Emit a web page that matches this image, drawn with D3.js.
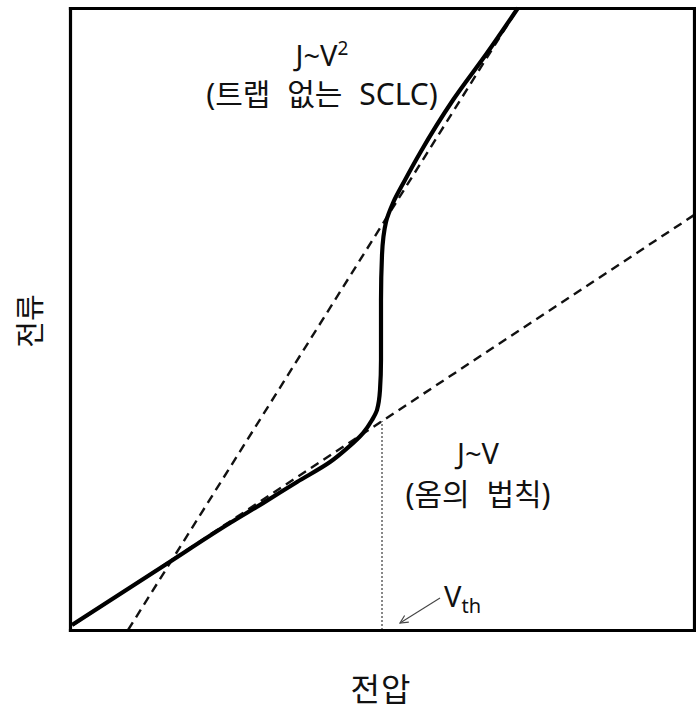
<!DOCTYPE html>
<html>
<head>
<meta charset="utf-8">
<script src="https://cdn.jsdelivr.net/npm/d3@7"></script>
<style>
  html, body { margin: 0; padding: 0; background: #fff; }
  svg { display: block; }
  text { font-family: "Noto Sans", "Noto Sans CJK KR", sans-serif; fill: #111; }
</style>
</head>
<body>
<svg id="chart" width="696" height="714"></svg>
<script>
// Current–voltage characteristic: Ohmic region, trap-filling jump at Vth, trap-free SCLC.
const voltage = [0.32, 15.22, 25.64, 30.93, 36.38, 41.67, 44.39, 46.96, 48.40, 49.20, 49.68, 49.84, 49.84, 50.00, 50.64, 51.76, 53.69, 56.09, 61.38, 66.83, 71.79];
const current = [0.80, 10.45, 17.20, 20.40, 23.80, 27.00, 29.20, 31.67, 33.76, 35.37, 38.59, 43.41, 53.05, 60.29, 65.59, 68.65, 72.35, 76.69, 85.21, 92.77, 100];

// Asymptotes: J ~ V (Ohm's law) and J ~ V^2 (trap-free SCLC)
const ohmV = [0.5, 100];
const ohmJ = [0.8, 66.7];
const sclcV = [9.3, 71.8];
const sclcJ = [0, 100];

const vth = 50;
const vthJ = 33.6;

const xLabel = "전압";
const yLabel = "전류";
const sclcLabel = ["J~V", "(트랩 없는 SCLC)"];
const ohmLabel = ["J~V", "(옴의 법칙)"];

const svg = d3.select("#chart");
const x = d3.scaleLinear().domain([0, 100]).range([70, 694]);
const y = d3.scaleLinear().domain([0, 100]).range([630, 8]);

const line = d3.line().x(d => x(d[0])).y(d => y(d[1]));

// asymptote dashed lines
const dash = svg.append("g")
  .attr("fill", "none").attr("stroke", "#111")
  .attr("stroke-width", 2.4).attr("stroke-dasharray", "9,6");
dash.append("path").attr("d", line(d3.zip(ohmV, ohmJ)));
dash.append("path").attr("d", line(d3.zip(sclcV, sclcJ)));

// Vth marker
svg.append("path")
  .attr("d", line([[vth, 0], [vth, vthJ]]))
  .attr("fill", "none").attr("stroke", "#111")
  .attr("stroke-width", 1).attr("stroke-dasharray", "2,2");

// J-V curve
svg.append("path")
  .attr("d", d3.line().x(d => x(d[0])).y(d => y(d[1])).curve(d3.curveMonotoneY)(d3.zip(voltage, current)))
  .attr("fill", "none").attr("stroke", "#000")
  .attr("stroke-width", 4.2).attr("stroke-linejoin", "round");

// plot frame
const frame = svg.append("g");
frame.append("g").attr("transform", `translate(0,${y(0)})`).call(d3.axisBottom(x).tickValues([]).tickSizeOuter(0));
frame.append("g").attr("transform", `translate(0,${y(100)})`).call(d3.axisTop(x).tickValues([]).tickSizeOuter(0));
frame.append("g").attr("transform", `translate(${x(0)},0)`).call(d3.axisLeft(y).tickValues([]).tickSizeOuter(0));
frame.append("g").attr("transform", `translate(${x(100)},0)`).call(d3.axisRight(y).tickValues([]).tickSizeOuter(0));
frame.selectAll(".domain").attr("stroke", "#000").attr("stroke-width", 3.2).attr("stroke-linecap", "square");

// region labels
const t1 = svg.append("text").attr("x", 322).attr("y", 66).attr("text-anchor", "middle").attr("font-size", 29);
t1.append("tspan").text(sclcLabel[0]);
t1.append("tspan").attr("font-size", 19).attr("dy", -11).text("2");
svg.append("text").attr("x", 322).attr("y", 105).attr("text-anchor", "middle").attr("font-size", 30)
  .attr("word-spacing", 9).text(sclcLabel[1]);

svg.append("text").attr("x", 478).attr("y", 464).attr("text-anchor", "middle").attr("font-size", 29).text(ohmLabel[0]);
svg.append("text").attr("x", 478).attr("y", 505).attr("text-anchor", "middle").attr("font-size", 30)
  .attr("word-spacing", 9).text(ohmLabel[1]);

// Vth annotation with arrow
svg.append("defs").append("marker")
  .attr("id", "arr").attr("viewBox", "0 0 10 10").attr("refX", 9).attr("refY", 5)
  .attr("markerWidth", 9).attr("markerHeight", 9).attr("orient", "auto-start-reverse")
  .append("path").attr("d", "M1,1 L9,5 L1,9").attr("fill", "none").attr("stroke", "#444").attr("stroke-width", 1.2);
svg.append("line")
  .attr("x1", 440).attr("y1", 598).attr("x2", 400).attr("y2", 623)
  .attr("stroke", "#444").attr("stroke-width", 1.1).attr("marker-end", "url(#arr)");
const vt = svg.append("text").attr("x", 444).attr("y", 607).attr("font-size", 29);
vt.append("tspan").text("V");
vt.append("tspan").attr("font-size", 20).attr("dy", 6).text("th");

// axis titles
svg.append("text").attr("x", 381).attr("y", 701).attr("text-anchor", "middle").attr("font-size", 32)
  .attr("letter-spacing", 1).text(xLabel);
svg.append("text").attr("transform", "translate(41,321) rotate(-90)").attr("text-anchor", "middle").attr("font-size", 29).text(yLabel);
</script>
</body>
</html>
